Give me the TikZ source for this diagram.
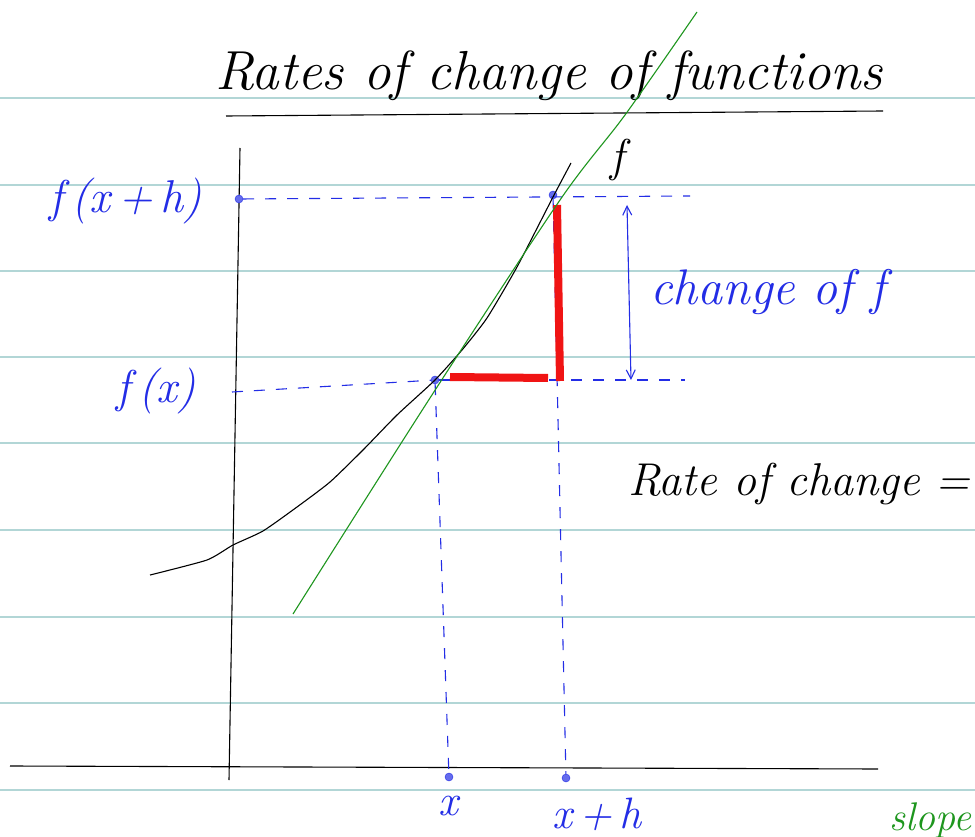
\documentclass[tikz,border=0pt]{standalone}
\usepackage{tikz}
\usetikzlibrary{arrows.meta,positioning}
\definecolor{ruleteal}{RGB}{178,214,214}
\definecolor{inkblue}{RGB}{35,45,230}
\definecolor{inkred}{RGB}{240,20,20}
\definecolor{inkgreen}{RGB}{30,150,30}
\tikzset{
  ruleline/.style={ruleteal,line width=1.3pt},
  axisline/.style={black,line width=1.1pt},
  fcurve/.style={black,line width=1.1pt},
  secline/.style={inkgreen,line width=1.1pt},
  guide/.style={inkblue,line width=1.1pt,dash pattern=on 11pt off 11pt},
  dotmark/.style={circle,draw=inkblue,fill=inkblue!70,inner sep=0pt,minimum size=8pt},
  redbar/.style={inkred,line width=8pt},
  bluearr/.style={{Straight Barb[length=9pt,width=9pt]}-{Straight Barb[length=9pt,width=9pt]},inkblue,line width=1.1pt},
  hand/.style={inner sep=0pt,font=\fontsize{40}{44}\selectfont\itshape},
  bluelabel/.style={hand,text=inkblue},
}
\begin{document}
\begin{tikzpicture}[x=1pt,y=-1pt]
  \useasboundingbox[fill=white] (0,0) rectangle (975,837);
  %% ruled paper
  \foreach \yy in {98,185,271,357,443,530,617,703,790}
    \draw[ruleline] (0,\yy) -- (975,\yy);

  %% title
  \node[hand,font=\fontsize{55}{60}\selectfont\itshape,anchor=base west] (title) at (215,90) {Rates of change of functions};
  \coordinate (ulL) at (226,116);
  \coordinate (ulR) at (883,111);
  \draw[axisline] (ulL) -- (ulR);

  %% axes
  \coordinate (ytop) at (240,148);
  \coordinate (ybot) at (229,780);
  \coordinate (xleft) at (10,766);
  \coordinate (xright) at (878,769);
  \draw[axisline] (ytop) -- (ybot);
  \draw[axisline] (xleft) -- (xright);

  %% guides
  \node[dotmark] (fxhdot) at (239,199) {};
  \node[dotmark] (fxdot) at (435,380) {};
  \node[dotmark] (fxhtop) at (553,195) {};
  \node[dotmark] (xdot) at (449,777) {};
  \node[dotmark] (xhdot) at (566,778) {};
  \coordinate (gtopR) at (690,196);
  \coordinate (gbotL) at (232,392);
  \coordinate (gbotR) at (685,380);
  \draw[guide] (fxhdot) -- (gtopR);
  \draw[guide] (gbotL) -- (fxdot);
  \draw[guide] (fxdot) -- (gbotR);
  \draw[guide] (fxdot) -- (xdot);
  \draw[guide] (fxhtop) -- (xhdot);

  %% red increments
  \coordinate (rA) at (450,377);
  \coordinate (rB) at (548,378);
  \coordinate (rC) at (557,205);
  \coordinate (rD) at (560,381);
  \draw[redbar] (rA) -- (rB);
  \draw[redbar] (rC) -- (rD);

  %% the function
  \draw[fcurve] plot[smooth,tension=0.35] coordinates {(150,575) (207,560) (233,545) (263,531) (297,507) (330,482) (363,450) (397,415) (435,380) (462,350) (487,318) (517,267) (553,197) (571,163)};
  \node[hand,font=\fontsize{46}{50}\selectfont\itshape,anchor=base west] (flabel) at (610,172) {f};

  %% secant
  \draw[secline] plot[smooth,tension=0.5] coordinates {(293,614) (430,398) (560,200) (625,115) (697,12)};

  %% change arrow
  \coordinate (arrT) at (627,205);
  \coordinate (arrB) at (631,380);
  \draw[bluearr] (arrT) -- (arrB);
  \node[bluelabel,font=\fontsize{50}{54}\selectfont\itshape,anchor=base west] (chg) at (650,305) {change of f};

  %% labels
  \node[bluelabel,font=\fontsize{46}{50}\selectfont\itshape,anchor=base east] (fxh) at (202,213) {f\,(x\,+\,h)};
  \node[bluelabel,font=\fontsize{46}{50}\selectfont\itshape,anchor=base east] (fx) at (196,402) {f\,(x)};
  \node[bluelabel,font=\fontsize{44}{48}\selectfont\itshape,anchor=base] (xlab) at (448,815) {x};
  \node[bluelabel,font=\fontsize{44}{48}\selectfont\itshape,anchor=base] (xhlab) at (597,828) {x\,+\,h};
  \node[hand,font=\fontsize{46}{50}\selectfont\itshape,anchor=base west] (rate) at (628,495) {Rate of change =};
  \node[hand,font=\fontsize{40}{44}\selectfont\itshape,text=inkgreen,anchor=base east] (slope) at (972,830) {slope};
\end{tikzpicture}
\end{document}
